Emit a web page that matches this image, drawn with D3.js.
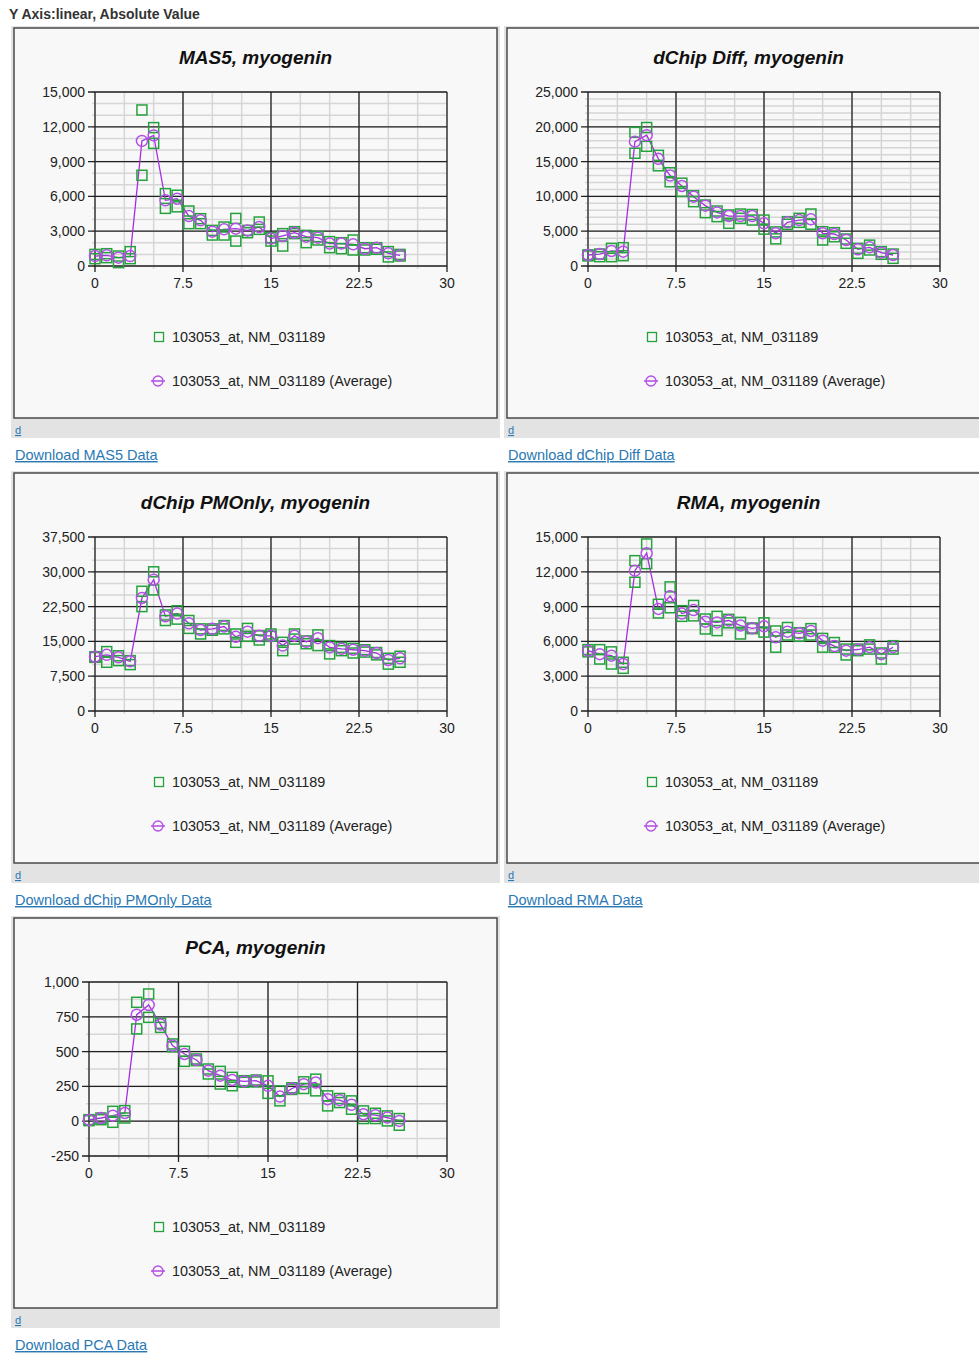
<!DOCTYPE html>
<html>
<head>
<meta charset="utf-8">
<script src="https://cdn.jsdelivr.net/npm/d3@7"></script>
<style>
  body { margin: 0; background: #fff; }
  svg { display: block; font-family: "Liberation Sans", Arial, sans-serif; }
</style>
</head>
<body>
<div id="main-chart"></div>
<script>
const days = d3.range(0, 27);

const mas5Rep1 = [1000, 1060, 860, 1240, 13450, 11930, 6240, 6100, 4740, 4080, 3070, 3360, 4100, 3070, 3790, 2440, 2790, 2960, 2640, 2530, 2100, 2010, 2240, 1580, 1580, 1240, 1000];
const mas5Rep2 = [630, 720, 290, 630, 7820, 10570, 4970, 5100, 3650, 3650, 2670, 2670, 2150, 2870, 3160, 2150, 1720, 2790, 2010, 2240, 1580, 1490, 1380, 1380, 1440, 780, 860];
const mas5Avg = [860, 920, 720, 860, 10780, 11260, 5660, 5800, 4300, 3940, 2960, 3160, 3220, 3070, 3360, 2360, 2590, 2870, 2530, 2440, 1930, 1930, 1870, 1490, 1580, 1090, 920];

const diffRep1 = [1600, 1720, 2540, 2630, 19200, 19900, 15900, 13400, 11900, 10100, 8760, 7900, 7330, 7470, 7400, 6600, 4900, 6370, 6850, 7470, 4930, 4790, 3880, 2540, 3000, 2060, 1720];
const diffRep2 = [1450, 1340, 1340, 1480, 16200, 17200, 14400, 12100, 10700, 9240, 7660, 7090, 6130, 6850, 6600, 5300, 3900, 6000, 6270, 6000, 3740, 4200, 3260, 1820, 2300, 1680, 1100];
const diffAvg = [1580, 1720, 2160, 2060, 17860, 18800, 15400, 13000, 11500, 9960, 8670, 7700, 7180, 7180, 7180, 6130, 4700, 6270, 6600, 6700, 4700, 4600, 3740, 2400, 2680, 1920, 1580];

const pmRep1 = [11700, 12800, 11900, 10850, 25800, 30000, 20700, 21600, 19500, 17700, 17700, 18400, 16600, 17800, 16200, 16600, 14800, 16600, 15100, 16400, 14100, 13700, 13500, 13200, 12600, 11350, 11800];
const pmRep2 = [11570, 10500, 10850, 10000, 22500, 26100, 19500, 19800, 17800, 16600, 17400, 17700, 14800, 16100, 15300, 16100, 13000, 15500, 14500, 14100, 12300, 13000, 12500, 12700, 12100, 10100, 10500];
const pmAvg = [11700, 12100, 11570, 10700, 24350, 28300, 20400, 21000, 18900, 17460, 17700, 18200, 16000, 17100, 16200, 16200, 14100, 16200, 14900, 15700, 13700, 13400, 13200, 13000, 12500, 11000, 11350];

const rmaRep1 = [5290, 5290, 5100, 4200, 12960, 14400, 9200, 10700, 8650, 9100, 7930, 8160, 7900, 7640, 7150, 7600, 6900, 7200, 6750, 7100, 6260, 5900, 5340, 5340, 5700, 5000, 5630];
const rmaRep2 = [5100, 4480, 4050, 3680, 11100, 12700, 8450, 8900, 8160, 8200, 7070, 6930, 7600, 6640, 7100, 6800, 5500, 6550, 6450, 6550, 5500, 5500, 4830, 5200, 5340, 4480, 5340];
const rmaAvg = [5200, 4900, 4770, 4050, 12100, 13600, 8800, 9900, 8400, 8700, 7700, 7640, 7800, 7360, 7130, 7300, 6350, 6840, 6700, 6900, 6060, 5600, 5200, 5300, 5500, 4900, 5500];

const pcaRep1 = [11, 23, 71, 76, 854, 914, 703, 555, 502, 447, 375, 358, 315, 291, 296, 290, 218, 240, 283, 302, 182, 163, 146, 74, 57, 38, 19];
const pcaRep2 = [4, 11, -8, 23, 663, 746, 674, 535, 430, 435, 339, 267, 255, 280, 282, 200, 146, 228, 235, 218, 110, 134, 86, 19, 19, 2, -29];
const pcaAvg = [9, 23, 40, 59, 765, 835, 694, 543, 483, 440, 363, 327, 296, 286, 291, 254, 177, 235, 266, 278, 158, 151, 118, 50, 43, 26, 2];

const xTicks = [0, 7.5, 15, 22.5, 30];
const seriesLabel = "103053_at, NM_031189";

const charts = [
  { name: "MAS5", rep1: mas5Rep1, rep2: mas5Rep2, avg: mas5Avg, yMin: 0, yMax: 15000, major: 3000, minor: 1000 },
  { name: "dChip Diff", rep1: diffRep1, rep2: diffRep2, avg: diffAvg, yMin: 0, yMax: 25000, major: 5000, minor: 1000 },
  { name: "dChip PMOnly", rep1: pmRep1, rep2: pmRep2, avg: pmAvg, yMin: 0, yMax: 37500, major: 7500, minor: 2500 },
  { name: "RMA", rep1: rmaRep1, rep2: rmaRep2, avg: rmaAvg, yMin: 0, yMax: 15000, major: 3000, minor: 1000 },
  { name: "PCA", rep1: pcaRep1, rep2: pcaRep2, avg: pcaAvg, yMin: -250, yMax: 1000, major: 250, minor: 125 },
];

const width = 979;
const height = 1353;
const boxW = 483;
const boxH = 390;
const plot = { top: 64, bottom: 238, right: 433 };

const green = "#25a23c";
const purple = "#a62ee0";
const linkBlue = "#2a78b4";

// plain hyphen for negatives, like the original
const fmt = (d) => d3.format(",")(d).replace("\u2212", "-");

const svg = d3
  .select("#main-chart")
  .append("svg")
  .attr("width", width)
  .attr("height", height);

svg
  .append("text")
  .attr("x", 9)
  .attr("y", 19)
  .style("font-size", "14px")
  .style("font-weight", "bold")
  .attr("fill", "#333")
  .text("Y Axis:linear, Absolute Value");

const drawChart = (c, i) => {
  const bx = i % 2 === 0 ? 14 : 507;
  const by = 28 + Math.floor(i / 2) * 445;
  const g = svg.append("g").attr("transform", `translate(${bx}, ${by})`);

  // grey frame + strip under the box
  g.append("rect")
    .attr("x", -3)
    .attr("y", -2)
    .attr("width", boxW + 6)
    .attr("height", boxH + 22)
    .attr("fill", "#e3e3e3");
  g.append("rect")
    .attr("width", boxW)
    .attr("height", boxH)
    .attr("fill", "#f8f8f8")
    .attr("stroke", "#4a4a4a")
    .attr("stroke-width", 1.5);

  g.append("text")
    .attr("x", boxW / 2)
    .attr("y", 36)
    .attr("text-anchor", "middle")
    .style("font-size", "19px")
    .style("font-weight", "bold")
    .style("font-style", "italic")
    .attr("fill", "#111")
    .text(`${c.name}, myogenin`);

  // longest y label decides the left edge of the plot
  const left = c.yMax >= 10000 ? 81 : 75;
  const x = d3.scaleLinear().domain([0, 30]).range([left, plot.right]);
  const y = d3.scaleLinear().domain([c.yMin, c.yMax]).range([plot.bottom, plot.top]);

  const yMinor = d3.range(c.yMin, c.yMax + 0.001, c.minor);
  const yMajor = d3.range(c.yMin, c.yMax + 0.001, c.major);
  const xMinor = d3.range(0, 30.001, 2.5);

  g.selectAll(".ymin")
    .data(yMinor)
    .join("line")
    .attr("x1", left - 3)
    .attr("x2", plot.right)
    .attr("y1", (d) => y(d))
    .attr("y2", (d) => y(d))
    .attr("stroke", "#d6d6d6")
    .attr("stroke-width", 1.5);
  g.selectAll(".xmin")
    .data(xMinor)
    .join("line")
    .attr("x1", (d) => x(d))
    .attr("x2", (d) => x(d))
    .attr("y1", plot.top)
    .attr("y2", plot.bottom + 3)
    .attr("stroke", "#d6d6d6")
    .attr("stroke-width", 1.5);

  g.append("g")
    .selectAll("line")
    .data(yMajor)
    .join("line")
    .attr("x1", left - 7)
    .attr("x2", plot.right)
    .attr("y1", (d) => y(d))
    .attr("y2", (d) => y(d))
    .attr("stroke", "#222")
    .attr("stroke-width", 1.3);
  g.append("g")
    .selectAll("line")
    .data(xTicks)
    .join("line")
    .attr("x1", (d) => x(d))
    .attr("x2", (d) => x(d))
    .attr("y1", plot.top)
    .attr("y2", plot.bottom + 6)
    .attr("stroke", "#222")
    .attr("stroke-width", 1.3);

  g.append("g")
    .selectAll("text")
    .data(yMajor)
    .join("text")
    .attr("x", left - 10)
    .attr("y", (d) => y(d))
    .attr("dy", "0.35em")
    .attr("text-anchor", "end")
    .style("font-size", "14px")
    .attr("fill", "#222")
    .text((d) => fmt(d));
  g.append("g")
    .selectAll("text")
    .data(xTicks)
    .join("text")
    .attr("x", (d) => x(d))
    .attr("y", plot.bottom + 22)
    .attr("text-anchor", "middle")
    .style("font-size", "14px")
    .attr("fill", "#222")
    .text((d) => d);

  // series
  const line = d3
    .line()
    .x((d, j) => x(days[j]))
    .y((d) => y(d));
  g.append("path")
    .attr("d", line(c.avg))
    .attr("fill", "none")
    .attr("stroke", purple)
    .attr("stroke-width", 1.3);

  const reps = days.flatMap((d, j) => [
    { day: d, v: c.rep1[j] },
    { day: d, v: c.rep2[j] },
  ]);
  g.append("g")
    .selectAll("rect")
    .data(reps)
    .join("rect")
    .attr("x", (d) => x(d.day) - 5)
    .attr("y", (d) => y(d.v) - 5)
    .attr("width", 10)
    .attr("height", 10)
    .attr("fill", "none")
    .attr("stroke", green)
    .attr("stroke-width", 1.5);
  g.append("g")
    .selectAll("circle")
    .data(c.avg)
    .join("circle")
    .attr("cx", (d, j) => x(days[j]))
    .attr("cy", (d) => y(d))
    .attr("r", 5.5)
    .attr("fill", "none")
    .attr("stroke", "#b44ee6")
    .attr("stroke-width", 1.5);

  // legend
  const lg = g.append("g").attr("transform", "translate(145, 309)");
  lg.append("rect")
    .attr("x", -4.5)
    .attr("y", -4.5)
    .attr("width", 9)
    .attr("height", 9)
    .attr("fill", "none")
    .attr("stroke", green)
    .attr("stroke-width", 1.3);
  lg.append("text")
    .attr("x", 13)
    .attr("y", 5)
    .style("font-size", "14.4px")
    .attr("fill", "#222")
    .text(seriesLabel);
  lg.append("line")
    .attr("x1", -8)
    .attr("x2", 6)
    .attr("y1", 44)
    .attr("y2", 44)
    .attr("stroke", purple)
    .attr("stroke-width", 1.3);
  lg.append("circle")
    .attr("cx", -1)
    .attr("cy", 44)
    .attr("r", 5)
    .attr("fill", "none")
    .attr("stroke", "#b44ee6")
    .attr("stroke-width", 1.3);
  lg.append("text")
    .attr("x", 13)
    .attr("y", 49)
    .style("font-size", "14.4px")
    .attr("fill", "#222")
    .text(`${seriesLabel} (Average)`);

  g.append("text")
    .attr("x", 1)
    .attr("y", 406)
    .style("font-size", "11px")
    .style("text-decoration", "underline")
    .attr("fill", linkBlue)
    .text("d");
  g.append("text")
    .attr("x", 1)
    .attr("y", 432)
    .style("font-size", "14.5px")
    .style("text-decoration", "underline")
    .attr("fill", linkBlue)
    .text(`Download ${c.name} Data`);
};

charts.forEach(drawChart);
</script>
</body>
</html>
